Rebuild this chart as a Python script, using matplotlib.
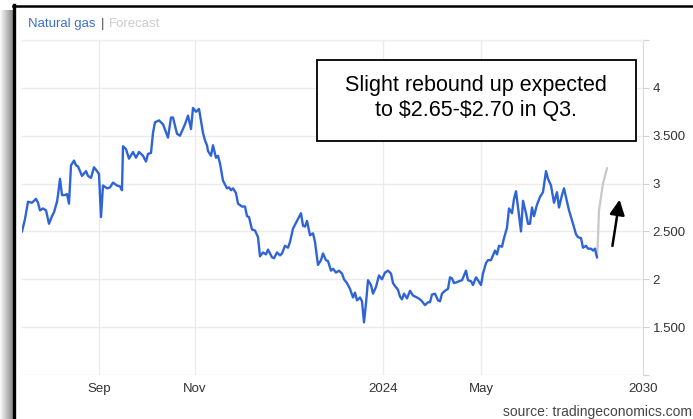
import numpy as np
import matplotlib
matplotlib.use("Agg")
import matplotlib.pyplot as plt
from matplotlib.lines import Line2D
from matplotlib.patches import Rectangle

# days since start of series (chart x units) and price in USD/MMBtu
days = [0, 3, 6, 10, 14, 16, 18, 21, 24, 27,
        30, 32, 35, 36, 38, 40, 43, 45, 47, 49,
        52, 54, 56, 60, 64, 66, 69, 72, 75, 77,
        79, 81, 85, 88, 91, 95, 98, 100, 101, 104,
        107, 111, 114, 117, 121, 124, 126, 129, 131, 133,
        137, 141, 146, 149, 151, 155, 158, 163, 166, 169,
        171, 174, 177, 181, 183, 185, 186, 189, 191, 194,
        196, 198, 201, 205, 207, 209, 211, 214, 216, 220,
        223, 225, 227, 230, 233, 236, 238, 241, 244, 246,
        250, 252, 255, 258, 260, 263, 266, 268, 271, 274,
        276, 279, 281, 283, 285, 288, 291, 293, 296, 299,
        301, 304, 306, 309, 311, 314, 317, 320, 322, 325,
        328, 331, 333, 335, 338, 340, 342, 344, 346, 349,
        351, 354, 357, 360, 363, 366, 369, 371, 373, 376,
        378, 380, 382, 385, 388, 391, 395, 398, 400, 403,
        406, 408, 410, 413, 416, 418, 420, 423, 426, 428,
        430, 432, 435, 437, 440, 442, 444, 446, 449, 451,
        454, 456, 459, 461, 464, 466, 469, 471, 473, 475,
        477, 480, 482, 485, 487, 490, 492, 494, 496, 499,
        501, 504, 506, 508, 510, 512, 515, 518, 521, 524,
        526, 529, 532, 535, 537, 540, 542, 544, 547, 551,
        554, 556, 559, 561, 564, 566, 569, 571, 573, 574,
        575]
price = [2.50, 2.63, 2.81, 2.80, 2.84, 2.80, 2.72, 2.74, 2.72, 2.58,
         2.66, 2.70, 2.81, 2.88, 3.05, 2.88, 2.88, 2.89, 2.79, 3.19,
         3.24, 3.19, 3.18, 3.08, 3.13, 3.08, 3.06, 3.17, 3.13, 3.10,
         2.65, 2.98, 2.95, 2.96, 3.01, 2.98, 2.97, 2.93, 3.39, 3.36,
         3.26, 3.33, 3.27, 3.33, 3.29, 3.23, 3.31, 3.32, 3.53, 3.64,
         3.66, 3.62, 3.48, 3.69, 3.69, 3.52, 3.50, 3.62, 3.71, 3.57,
         3.79, 3.75, 3.78, 3.53, 3.45, 3.40, 3.34, 3.29, 3.40, 3.27,
         3.29, 3.21, 3.03, 2.95, 2.96, 2.93, 2.95, 2.90, 2.79, 2.76,
         2.76, 2.66, 2.65, 2.52, 2.51, 2.44, 2.24, 2.28, 2.26, 2.31,
         2.23, 2.22, 2.28, 2.25, 2.27, 2.35, 2.33, 2.39, 2.53, 2.59,
         2.63, 2.69, 2.56, 2.55, 2.61, 2.46, 2.48, 2.39, 2.15, 2.20,
         2.27, 2.20, 2.19, 2.09, 2.11, 2.07, 2.09, 2.06, 2.00, 1.96,
         1.90, 1.81, 1.86, 1.78, 1.81, 1.77, 1.55, 1.75, 1.99, 1.94,
         1.85, 1.92, 2.04, 2.00, 2.07, 2.09, 2.06, 1.96, 1.93, 1.89,
         1.82, 1.79, 1.85, 1.80, 1.88, 1.83, 1.81, 1.79, 1.77, 1.73,
         1.76, 1.76, 1.84, 1.85, 1.78, 1.77, 1.85, 1.88, 1.90, 2.02,
         2.01, 1.96, 1.97, 1.98, 1.99, 2.04, 2.09, 1.99, 1.98, 1.94,
         2.02, 1.99, 1.94, 2.06, 2.17, 2.20, 2.20, 2.25, 2.30, 2.26,
         2.35, 2.34, 2.43, 2.54, 2.74, 2.69, 2.84, 2.92, 2.75, 2.50,
         2.82, 2.69, 2.58, 2.58, 2.75, 2.66, 2.78, 2.86, 2.91, 3.13,
         3.05, 2.98, 2.80, 2.91, 2.75, 2.88, 2.95, 2.86, 2.72, 2.58,
         2.47, 2.44, 2.43, 2.33, 2.35, 2.32, 2.32, 2.30, 2.32, 2.27,
         2.23]

forecast_days = [575, 576, 577, 581, 585]
forecast_price = [2.23, 2.43, 2.72, 3.00, 3.16]

xtick_pos = [77, 173, 361, 459, 621]
xtick_labels = ["Sep", "Nov", "2024", "May", "2030"]
ytick_pos = [1.0, 1.5, 2.0, 2.5, 3.0, 3.5, 4.0, 4.5]
ytick_labels = ["", "1.500", "2", "2.500", "3", "3.500", "4", ""]

plt.rcParams['font.family'] = ['Liberation Sans', 'DejaVu Sans']

W, H = 693, 419
fig = plt.figure(figsize=(W / 100, H / 100), dpi=100)
fig.patch.set_facecolor("white")

ax = fig.add_axes([22 / W, 1 - 375 / H, (643 - 22) / W, (375 - 40) / H])
ax.plot(days, price, color="#2f64d6", lw=1.7, solid_joinstyle="round", zorder=3)
ax.plot(forecast_days, forecast_price, color="#c8c8c8", lw=1.6, zorder=2)

ax.set_xlim(0, 621)
ax.set_ylim(1.0, 4.5)
ax.set_xticks(xtick_pos)
ax.set_xticklabels(xtick_labels)
ax.set_yticks(ytick_pos)
ax.set_yticklabels(ytick_labels)
ax.yaxis.tick_right()
ax.tick_params(axis="x", length=0, pad=6, labelsize=9.5, labelcolor="#333333")
ax.tick_params(axis="y", length=4, width=0.8, color="#d0d0d0", pad=3,
               labelsize=9.5, labelcolor="#333333")
ax.grid(True, color="#ebebeb", lw=1)
for s in ["top", "left", "bottom"]:
    ax.spines[s].set_visible(False)
ax.spines["right"].set_color("#dcdcdc")

# arrow pointing at the forecast rebound
ax.annotate("", xy=(598, 2.86), xytext=(590, 2.32),
            arrowprops=dict(arrowstyle="-|>,head_width=0.45,head_length=0.9",
                            color="black", lw=1.8))

# header
fig.text(28 / W, 1 - 24 / H, "Natural gas", color="#3d6fd1", fontsize=9.5, va="center")
fig.text(101 / W, 1 - 24 / H, "|", color="#555555", fontsize=9.5, va="center")
fig.text(109 / W, 1 - 24 / H, "Forecast", color="#cccccc", fontsize=9.5, va="center")
fig.add_artist(Line2D([22 / W, 643 / W], [1 - 40 / H, 1 - 40 / H], color="#f0f0f0", lw=1))

# note box
fig.add_artist(Rectangle((317 / W, 1 - 141 / H), (636 - 317) / W, (141 - 60) / H,
                         transform=fig.transFigure, fc="white", ec="black", lw=1.3,
                         zorder=5))
fig.text(476 / W, 1 - 98 / H, "Slight rebound up expected\nto \\$2.65-\\$2.70 in Q3.",
         ha="center", va="center", multialignment="center", fontsize=15.5,
         linespacing=1.3, color="black", zorder=6)

fig.text(0.999, 1 - 412 / H, "source: tradingeconomics.com", ha="right", va="center",
         fontsize=10, color="#444444")

# screenshot frame: shadow + black border
sh = fig.add_axes([0, 0, 13 / W, (H - 10) / H])
grad = np.linspace(0.97, 0.55, 13)[None, :].repeat(10, axis=0)
sh.imshow(grad, cmap="gray", vmin=0, vmax=1, aspect="auto")
sh.axis("off")
fig.add_artist(Line2D([14 / W, 14 / W], [0, 1 - 5 / H], color="black", lw=2.4))
fig.add_artist(Line2D([13 / W, 1], [1 - 6 / H, 1 - 6 / H], color="black", lw=1.8))

fig.savefig("out.png", dpi=100)
